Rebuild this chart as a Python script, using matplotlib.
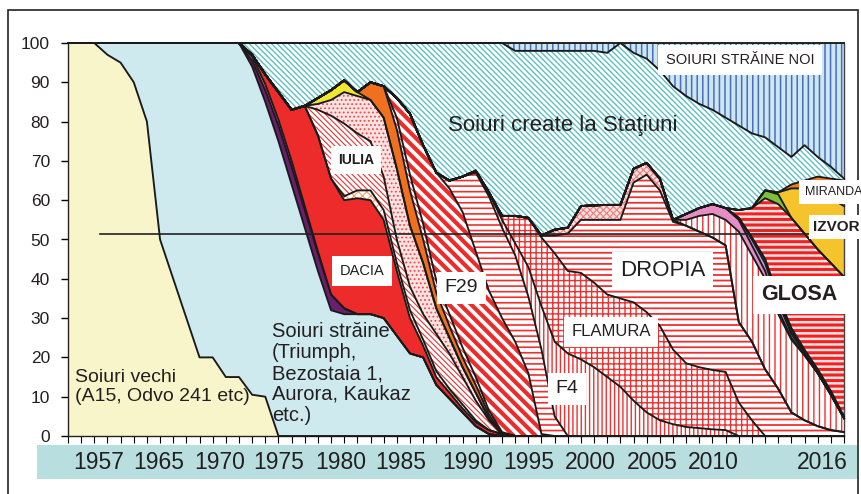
import numpy as np
import matplotlib
matplotlib.use('Agg')
import matplotlib.pyplot as plt
from matplotlib.patches import Rectangle
import matplotlib.transforms as mtransforms

plt.rcParams['font.family'] = ['Liberation Sans', 'DejaVu Sans']

# ---------------- data (share of wheat area, %) ----------------
years = list(range(1957, 2017))
lead = [0] * 13          # 1957-1969: varieties not yet present

vechi = [100, 100, 100, 97, 95, 90, 80, 50, 40, 30, 20, 20, 15,
         15, 10.5, 10] + [0] * 44
straine = [0, 0, 0, 3, 5, 10, 20, 50, 60, 70, 80, 80, 85,
           85, 83.5, 75, 75, 64, 53, 42, 32, 31, 31,
           31, 30, 25.5, 21, 20, 13, 9.5, 6, 2.5, 0.5] + [0] * 27
purple = lead + [0, 1.5, 3, 4, 4.5, 4.5, 4.5, 4, 1.5] + [0] * 38
salmon = lead + [0, 1, 1.5, 1.5, 1.5, 1, 0.5] + [0] * 40
dacia = lead + [0, 0.5, 2.5, 7, 13, 25.5, 29.5, 29.5, 27.5, 29.5,
                29, 25, 16.5, 9, 3, 2, 1.5, 1, 1, 1, 0.5] + [0] * 26
oband = lead + [0] * 8 + [1, 2, 2.5, 2.5, 2, 2, 1.5, 1.5, 1, 1, 0.5] + [0] * 28
iulia = lead + [0] * 6 + [6.5, 16, 18.5, 14.5, 12.5, 8.5, 6, 6, 6.5, 9.5,
                          9, 7, 5, 2.5] + [0] * 27
dotted = lead + [0] * 6 + [1.5, 4, 8, 9.5, 10.5, 15, 18, 15.5, 13, 6.5,
                           4, 2.5, 2, 0.5] + [0] * 27
yel = lead + [0] * 6 + [1.5, 2.5, 3, 1] + [0] * 37
orange = lead + [0] * 10 + [4.5, 8, 10, 9, 6, 4, 3, 2.5, 2, 1] + [0] * 27
w2 = lead + [0] * 12 + [3, 4, 4, 3, 3, 2.5, 2, 1, 0.5] + [0] * 26
f29 = lead + [0] * 12 + [5, 15.5, 20, 27.5, 32, 34.5, 32, 30.5, 29, 24,
                         16, 0.5] + [0] * 23
hband = lead + [0] * 16 + [2, 9, 20, 24, 23, 22, 19.5, 21.5, 5] + [0] * 22
f4 = lead + [0] * 18 + [0.5, 1, 2, 3, 7.5, 11, 19, 21, 19.5, 17.5, 15, 12.5,
                        9, 6, 4, 3, 2.3, 2, 1.7, 1.5] + [0] * 9
flamura = lead + [0] * 20 + [1, 7, 12.5, 17.5, 22.5, 21, 22, 21.5, 21, 22.5,
                             25, 25.5, 24, 19, 16.2, 15.5, 15.1, 14.8, 8.5, 4] + [0] * 7
dropia = lead + [0] * 23 + [0.5, 4.5, 9.5, 13.5, 16, 19, 20, 30.5, 35, 34.5,
                            32.5, 35, 34.5, 33.7, 32.2, 20.5, 20, 17, 12, 6,
                            4, 2.5, 1.5, 1]
px = lead + [0] * 24 + [1.5, 1.5, 3.5, 3.7, 3.8, 3.8, 3.5, 3, 3, 0.5] + [0] * 13
v2 = lead + [0] * 34 + [1.5, 4, 6, 6.5, 23, 22, 23, 19, 18.5, 16.5, 13.5, 9, 3.5]
pink = lead + [0] * 34 + [1.5, 2, 2.5, 3, 3, 2.5, 2, 1, 0.5, 0, 0, 0, 0]
lav = lead + [0] * 38 + [0.5, 1.5, 2, 2, 1, 0.5, 0, 0, 0]
tan = lead + [0] * 39 + [0.5, 1, 1, 0.5, 0, 0, 0, 0]
other = lead + [0] * 41 + [0.5, 1, 1, 1, 1, 0.5]
glosa = lead + [0] * 38 + [2, 7.5, 15.5, 23.5, 28, 29.5, 30.5, 32.5, 35.5]
green = lead + [0] * 40 + [2, 2.5, 0, 0, 0, 0, 0]
izvor = lead + [0] * 41 + [0.5, 7.5, 11.5, 15, 16.5, 18]
miranda = lead + [0] * 42 + [1, 2, 3.5, 5, 6.5]
statiuni = lead + [0, 3, 8, 12.5, 17, 16, 14, 12, 9.5, 12.5,
                   10, 11, 14, 18, 26, 33, 35, 34, 32.5, 38,
                   44, 42, 42.5, 47, 45.5, 45, 39.5, 39.3, 38.7, 41.2,
                   29.5, 26.5, 27.5, 34, 30, 26.5, 24, 23, 21.5, 19,
                   13.5, 11.5, 7, 9, 5, 3, 0.5]
noi = lead + [0] * 21 + [2, 2, 2, 2, 2, 2, 2, 2.5, 0,
                         2.5, 4, 7, 11, 13.5, 15.5, 17, 19, 21, 23,
                         24, 26.5, 29, 26, 29, 31.5, 34.5]

year_labels = ['1957', '1965', '1970', '1975', '1980', '1985', '1990',
               '1995', '2000', '2005', '2010', '2016']
year_label_pos = [1959.3, 1963.9, 1968.5, 1973.05, 1977.7, 1982.3, 1987.4,
                  1992.05, 1996.7, 2001.4, 2006.05, 2014.35]
ref_line_level = 51.5
ref_line_years = (1959.4, 2013.8)

# ---------------- styles ----------------
RED = '#EE3030'
layers = [
    (vechi, dict(fc='#F8F5CB')),
    (straine, dict(fc='#CFEAEF')),
    (purple, dict(fc='#6A1F6E')),
    (salmon, dict(fc='#F08484')),
    (dacia, dict(fc='#EE2B2B')),
    (oband, dict(fc='white', hatch='xxxx', hc='#F4A06A', hlw=0.8)),
    (iulia, dict(fc='white', hatch='\\' * 6, hc=RED, hlw=0.8)),
    (dotted, dict(fc='#FDE2E2', hatch='....', hc='#EE4B4B', hlw=0.8)),
    (yel, dict(fc='#EFE82C')),
    (orange, dict(fc='#F07020')),
    (w2, dict(fc='white', hatch='\\' * 6, hc=RED, hlw=0.8)),
    (f29, dict(fc='white', hatch='\\' * 3, hc='#EE2B2B', hlw=3.0)),
    (hband, dict(fc='white', hatch='---', hc=RED, hlw=1.2)),
    (f4, dict(fc='white', hatch='||||', hc=RED, hlw=1.0)),
    (flamura, dict(fc='white', hatch='+++', hc=RED, hlw=1.0)),
    (dropia, dict(fc='white', hatch='---', hc=RED, hlw=1.3)),
    (px, dict(fc='#FCE0E0', hatch='xxxxx', hc='#F07C7C', hlw=0.8)),
    (v2, dict(fc='white', hatch='|||', hc=RED, hlw=1.0)),
    (pink, dict(fc='#E88CC6')),
    (lav, dict(fc='#B49CDA')),
    (tan, dict(fc='#F3C89C')),
    (other, dict(fc='#2A2A2A')),
    (glosa, dict(fc='#FBE0E0', hatch='---', hc='#EE2222', hlw=2.2)),
    (green, dict(fc='#7DBE3C')),
    (izvor, dict(fc='#F5C32C')),
    (miranda, dict(fc='#F07A22')),
    (statiuni, dict(fc='white', hatch='\\' * 6, hc='#5EC0C3', hlw=1.0)),
    (noi, dict(fc='#CDE7F1', hatch='|||', hc='#4A6CC0', hlw=1.1)),
]

W, H = 861, 494
fig = plt.figure(figsize=(W / 100, H / 100), dpi=100)
fig.patch.set_facecolor('white')

# label band and frame (figure decoration)
fig.add_artist(Rectangle((37 / W, (H - 479) / H), (857 - 37) / W, 34 / H,
                         transform=fig.transFigure, fc='#B9DEE0', ec='none', zorder=0))
fig.add_artist(Rectangle((8 / W, -0.1), (858 - 8) / W, (H - 10) / H + 0.1,
                         transform=fig.transFigure, fill=False, ec='#222222',
                         lw=1.2, zorder=0))

ax = fig.add_axes([68 / W, (H - 436) / H, 776 / W, 393 / H])
ax.set_facecolor('white')

x = np.array(years, dtype=float)
cum = np.zeros(len(years))
tops = []
for vals, st in layers:
    v = np.array(vals, dtype=float)
    top = cum + v
    hlw = st.get('hlw', 1.0)
    with plt.rc_context({'hatch.linewidth': hlw}):
        coll = ax.fill_between(x, cum, top, facecolor=st['fc'],
                               edgecolor=st.get('hc', 'none'),
                               hatch=st.get('hatch'), linewidth=0, zorder=1)
    if hasattr(coll, 'set_hatch_linewidth'):
        try:
            coll.set_hatch_linewidth(hlw)
        except Exception:
            pass
    tops.append(top)
    cum = top

for top in tops:
    ax.plot(x, top, color='#1A1A1A', lw=1.35, zorder=3, clip_on=False)

ax.plot(list(ref_line_years), [ref_line_level, ref_line_level],
        color='#222222', lw=1.2, zorder=4)

ax.set_xlim(1957, 2016)
ax.set_ylim(0, 100)
ax.set_yticks(range(0, 101, 10))
ax.tick_params(axis='y', length=5, width=1, pad=8, labelsize=12.5,
               labelcolor='#231F20')
ax.set_xticks(years)
ax.set_xticklabels([])
ax.tick_params(axis='x', length=5, width=0.8, direction='out')
for s in ['left', 'bottom']:
    ax.spines[s].set_color('#222222')
    ax.spines[s].set_linewidth(1.0)
ax.spines['right'].set_color('#444444')
ax.spines['right'].set_linewidth(1.0)
ax.spines['top'].set_visible(False)

# year labels in the band
trans = mtransforms.blended_transform_factory(ax.transData, fig.transFigure)
for lbl, pos in zip(year_labels, year_label_pos):
    ax.text(pos, (H - 462) / H, lbl, transform=trans, ha='center', va='center',
            color='#231F20', clip_on=False, fontsize=16.5)

# area captions
ax.text(1957.53, 12.5, 'Soiuri vechi\n(A15, Odvo 241 etc)', fontsize=14,
        ha='left', va='center', linespacing=1.15, color='#231F20', zorder=6)
ax.text(1972.5, 15.9, 'Soiuri străine\n(Triumph,\nBezostaia 1,\nAurora, Kaukaz\netc.)',
        fontsize=14.5, ha='left', va='center', linespacing=1.12, color='#231F20', zorder=6)
ax.text(1994.6, 79.1, 'Soiuri create la Staţiuni', fontsize=16, ha='center',
        va='center', color='#231F20', zorder=6)


def boxed(xv, yv, s, size, pad, bold=False, ha='center'):
    ax.text(xv, yv, s, fontsize=size, ha=ha, va='center', color='#231F20',
            fontweight='bold' if bold else 'normal', zorder=6, clip_on=False,
            bbox=dict(boxstyle='square,pad=%g' % pad, fc='white', ec='none'))


boxed(2008.1, 95.7, 'SOIURI STRĂINE NOI', 10.5, 0.55)
boxed(1978.9, 70.2, 'IULIA', 10, 0.5, bold=True)
boxed(1979.36, 42.0, 'DACIA', 10.5, 0.55)
boxed(1986.9, 37.7, 'F29', 14, 0.4)
boxed(1994.95, 12.0, 'F4', 14, 0.4)
boxed(1998.3, 26.5, 'FLAMURA', 12, 0.45)
boxed(2002.2, 42.2, 'DROPIA', 16, 0.35)
boxed(2012.6, 35.9, 'GLOSA', 15.5, 0.4, bold=True)
boxed(2013.0, 62.1, 'MIRANDA', 9, 0.45, ha='left')
boxed(2013.65, 53.2, 'IZVOR', 11, 0.3, bold=True, ha='left')

fig.savefig('out.png', dpi=100)
